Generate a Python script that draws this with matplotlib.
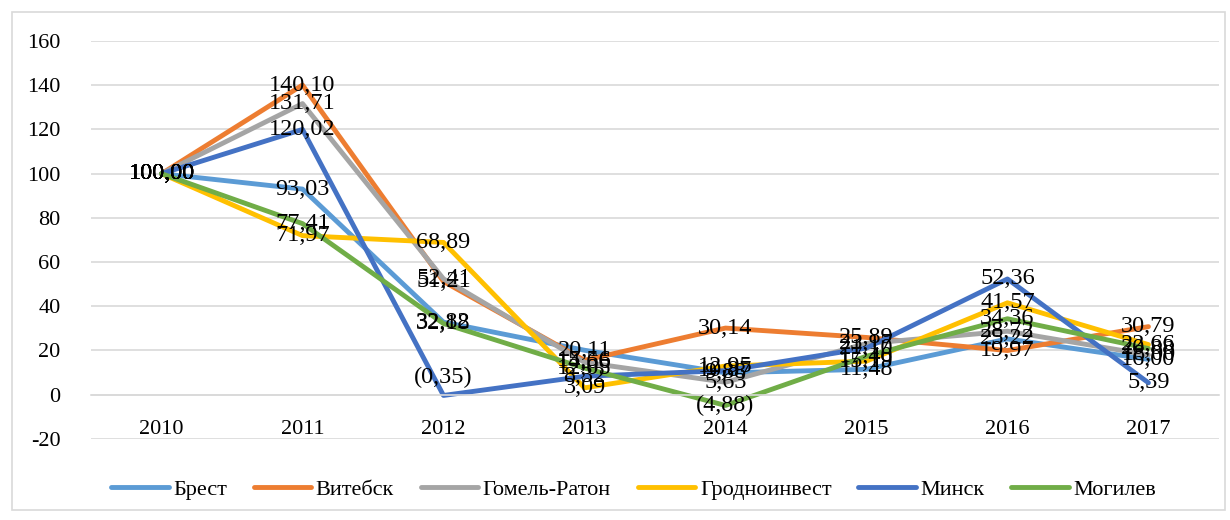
import matplotlib.pyplot as plt
from matplotlib.patches import Rectangle

plt.rcParams['font.family'] = ['Liberation Serif', 'DejaVu Serif']
plt.rcParams['axes.unicode_minus'] = False

years = ['2010', '2011', '2012', '2013', '2014', '2015', '2016', '2017']

brest = [100.00, 93.03, 32.82, 20.11, 9.88, 11.48, 25.22, 16.00]
vitebsk = [100.00, 140.10, 51.21, 15.56, 30.14, 25.89, 19.97, 30.79]
gomel = [100.00, 131.71, 52.41, 14.66, 5.63, 23.17, 28.72, 18.00]
grodno = [100.00, 71.97, 68.89, 3.09, 12.95, 15.19, 41.57, 22.66]
minsk = [100.00, 120.02, -0.35, 8.32, 10.87, 21.10, 52.36, 5.39]
mogilev = [100.00, 77.41, 32.18, 12.05, -4.88, 17.40, 34.36, 20.88]

names = ['Брест', 'Витебск', 'Гомель-Ратон', 'Гродноинвест', 'Минск', 'Могилев']
series = [brest, vitebsk, gomel, grodno, minsk, mogilev]
colors = ['#5B9BD5', '#ED7D31', '#A5A5A5', '#FFC000', '#4472C4', '#70AD47']

FS = 16

fig = plt.figure(figsize=(12.3, 5.2), dpi=100)
ax = fig.add_axes([0.074, 0.156, 0.917, 0.765])

x = list(range(len(years)))
for vals, name, c in zip(series, names, colors):
    ax.plot(x, vals, color=c, lw=3.5, label=name, solid_capstyle='round')

# data labels, Excel style
def fmt(v):
    s = '%.2f' % abs(v)
    s = s.replace('.', ',')
    return '(' + s + ')' if v < 0 else s

for vals in series:
    for xi, v in zip(x, vals):
        dy = 13 if -1 < v < 0 else 0
        ax.annotate(fmt(v), (xi, v), xytext=(0, dy), textcoords='offset points',
                    ha='center', va='center', fontsize=17.5, color='black', zorder=5)

ax.set_xlim(-0.5, 7.5)
ax.set_ylim(-20, 160)
ax.set_yticks(range(-20, 161, 20))
ax.grid(axis='y', color='#D9D9D9', lw=1.2)
ax.set_axisbelow(True)
for s in ['top', 'right', 'left']:
    ax.spines[s].set_visible(False)
ax.spines['bottom'].set_position(('data', 0))
ax.spines['bottom'].set_color('#D9D9D9')
ax.spines['bottom'].set_linewidth(1.2)
ax.set_xticks(x)
ax.set_xticklabels(years)
ax.tick_params(axis='both', length=0, labelsize=FS)
ax.tick_params(axis='x', pad=18)
ax.tick_params(axis='y', pad=22)

fig.legend(loc='center', bbox_to_anchor=(0.515, 0.058), ncol=6, frameon=False,
           fontsize=FS, handlelength=2.6, columnspacing=1.2, handletextpad=0.2)

fig.patches.append(Rectangle((12 / 1230, 10 / 520), 1213 / 1230, 498 / 520,
                             transform=fig.transFigure, fill=False,
                             edgecolor='#D9D9D9', lw=1.2))

fig.savefig('out.png', dpi=100)
